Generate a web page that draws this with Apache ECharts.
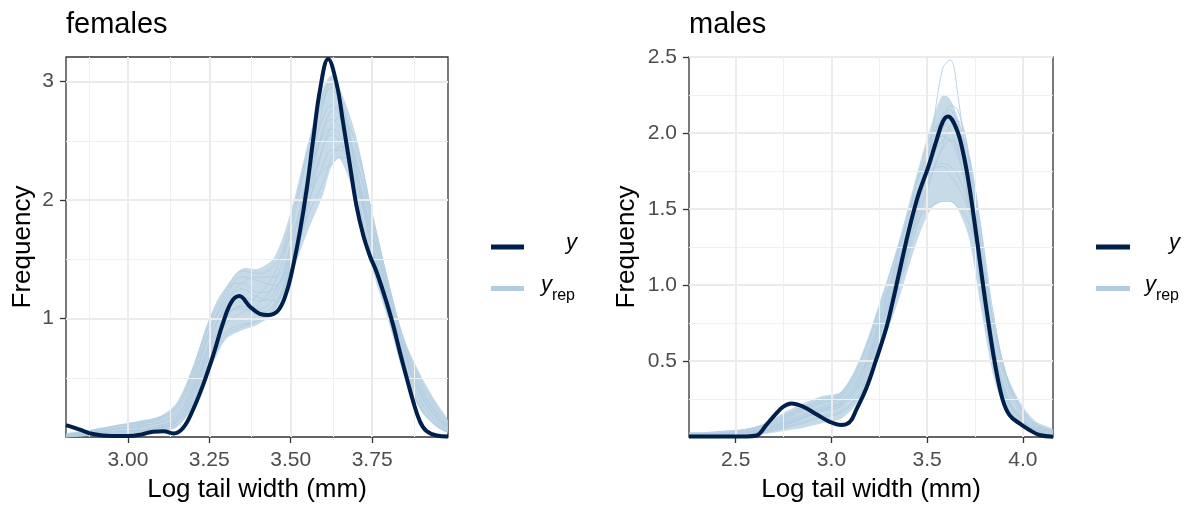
<!DOCTYPE html>
<html>
<head>
<meta charset="utf-8">
<script src="https://cdn.jsdelivr.net/npm/echarts@6/dist/echarts.min.js"></script>
<style>
  html, body { margin: 0; padding: 0; background: #ffffff; }
  #chart { width: 1190px; height: 508px; }
</style>
</head>
<body>
<div id="chart"></div>
<script>
// ---------- females: observed density ----------
const femaleObsX = [2.81, 2.85, 2.893, 2.95, 3.00, 3.04, 3.078, 3.11, 3.14, 3.17, 3.20, 3.231, 3.262, 3.293, 3.318, 3.342, 3.375, 3.405, 3.431, 3.462, 3.487, 3.508, 3.528, 3.549, 3.569, 3.59, 3.615, 3.641, 3.661, 3.682, 3.702, 3.723, 3.743, 3.764, 3.794, 3.815, 3.835, 3.856, 3.876, 3.897, 3.917, 3.948, 3.983];
const femaleObsY = [0.10, 0.065, 0.025, 0.008, 0.008, 0.02, 0.045, 0.048, 0.03, 0.078, 0.23, 0.44, 0.69, 0.97, 1.14, 1.19, 1.10, 1.04, 1.03, 1.07, 1.22, 1.45, 1.73, 2.09, 2.51, 2.93, 3.19, 2.98, 2.65, 2.29, 1.95, 1.70, 1.53, 1.39, 1.14, 0.94, 0.72, 0.50, 0.30, 0.13, 0.05, 0.012, 0.004];

// ---------- females: replicated densities ----------
const femaleRepX = [2.81, 2.86, 2.92, 2.98, 3.04, 3.10, 3.15, 3.20, 3.25, 3.30, 3.35, 3.40, 3.45, 3.50, 3.55, 3.60, 3.625, 3.65, 3.70, 3.75, 3.80, 3.85, 3.90, 3.95, 3.983];
const femaleRep = [
  [0.01, 0.02, 0.03, 0.04, 0.05, 0.07, 0.12, 0.30, 0.62, 0.88, 0.95, 0.98, 1.10, 1.45, 2.05, 2.80, 3.02, 2.90, 2.30, 1.55, 1.05, 0.58, 0.26, 0.10, 0.05],
  [0.02, 0.04, 0.06, 0.08, 0.11, 0.15, 0.24, 0.55, 0.95, 1.22, 1.40, 1.38, 1.45, 1.70, 2.05, 2.25, 2.30, 2.36, 2.30, 1.80, 1.25, 0.75, 0.45, 0.22, 0.12],
  [0.01, 0.03, 0.05, 0.07, 0.08, 0.10, 0.17, 0.42, 0.80, 1.08, 1.18, 1.15, 1.22, 1.60, 2.20, 2.70, 2.80, 2.72, 2.20, 1.62, 1.12, 0.66, 0.34, 0.15, 0.08],
  [0.00, 0.02, 0.04, 0.05, 0.06, 0.08, 0.14, 0.36, 0.72, 1.00, 1.10, 1.08, 1.18, 1.52, 2.10, 2.60, 2.68, 2.62, 2.35, 1.75, 1.20, 0.72, 0.40, 0.19, 0.10],
  [0.02, 0.04, 0.07, 0.10, 0.12, 0.16, 0.27, 0.58, 0.98, 1.25, 1.30, 1.22, 1.25, 1.55, 2.00, 2.45, 2.55, 2.50, 2.15, 1.60, 1.10, 0.62, 0.30, 0.12, 0.06],
  [0.01, 0.02, 0.04, 0.05, 0.06, 0.08, 0.13, 0.33, 0.68, 0.95, 1.05, 1.12, 1.30, 1.75, 2.35, 2.85, 2.95, 2.80, 2.10, 1.50, 1.02, 0.55, 0.24, 0.09, 0.04],
  [0.00, 0.01, 0.02, 0.03, 0.04, 0.06, 0.10, 0.28, 0.58, 0.85, 0.93, 0.98, 1.08, 1.40, 1.90, 2.45, 2.62, 2.70, 2.48, 1.85, 1.28, 0.80, 0.48, 0.25, 0.13],
  [0.02, 0.03, 0.05, 0.07, 0.09, 0.13, 0.21, 0.48, 0.88, 1.15, 1.30, 1.35, 1.35, 1.62, 2.15, 2.55, 2.60, 2.55, 2.25, 1.70, 1.18, 0.70, 0.36, 0.16, 0.09],
  [0.01, 0.03, 0.05, 0.08, 0.10, 0.12, 0.19, 0.40, 0.75, 1.02, 1.12, 1.20, 1.38, 1.82, 2.40, 2.90, 2.98, 2.85, 2.25, 1.58, 1.05, 0.60, 0.30, 0.13, 0.07],
  [0.01, 0.02, 0.03, 0.05, 0.06, 0.08, 0.14, 0.38, 0.78, 1.12, 1.25, 1.18, 1.15, 1.42, 1.85, 2.15, 2.35, 2.45, 2.40, 1.88, 1.30, 0.78, 0.42, 0.20, 0.10],
  [0.00, 0.01, 0.03, 0.05, 0.06, 0.09, 0.16, 0.45, 0.85, 1.05, 1.08, 1.05, 1.12, 1.48, 2.00, 2.60, 2.75, 2.78, 2.28, 1.65, 1.15, 0.68, 0.35, 0.16, 0.08],
  [0.01, 0.04, 0.07, 0.10, 0.13, 0.17, 0.25, 0.52, 0.90, 1.18, 1.35, 1.32, 1.28, 1.50, 1.95, 2.30, 2.42, 2.42, 2.18, 1.72, 1.22, 0.73, 0.38, 0.18, 0.09]
];
// spread of the replicated densities (lower / upper edge)
const femaleBandLo = [0.00, 0.01, 0.01, 0.02, 0.03, 0.04, 0.08, 0.25, 0.55, 0.82, 0.90, 0.95, 1.05, 1.35, 1.72, 2.05, 2.28, 2.35, 2.00, 1.42, 0.98, 0.50, 0.22, 0.08, 0.04];
const femaleBandHi = [0.03, 0.05, 0.08, 0.11, 0.14, 0.18, 0.29, 0.60, 1.00, 1.26, 1.42, 1.42, 1.52, 1.90, 2.45, 2.95, 3.05, 2.95, 2.55, 1.90, 1.32, 0.82, 0.52, 0.28, 0.14];

// ---------- males: observed density ----------
const maleObsX = [2.256, 2.40, 2.55, 2.608, 2.66, 2.712, 2.747, 2.791, 2.851, 2.921, 2.991, 3.052, 3.096, 3.13, 3.182, 3.234, 3.287, 3.321, 3.356, 3.391, 3.425, 3.46, 3.504, 3.547, 3.582, 3.608, 3.652, 3.686, 3.721, 3.756, 3.791, 3.826, 3.86, 3.895, 3.93, 3.982, 4.034, 4.087, 4.157];
const maleObsY = [0.003, 0.003, 0.004, 0.01, 0.08, 0.155, 0.198, 0.22, 0.20, 0.15, 0.10, 0.079, 0.10, 0.18, 0.32, 0.51, 0.72, 0.897, 1.094, 1.29, 1.464, 1.617, 1.77, 1.945, 2.076, 2.109, 2.03, 1.88, 1.64, 1.333, 1.006, 0.70, 0.44, 0.242, 0.144, 0.089, 0.046, 0.013, 0.002];

// ---------- males: replicated densities ----------
const maleRepX = [2.256, 2.35, 2.45, 2.55, 2.65, 2.75, 2.85, 2.95, 3.05, 3.15, 3.25, 3.35, 3.45, 3.52, 3.58, 3.62, 3.66, 3.72, 3.78, 3.85, 3.92, 4.00, 4.07, 4.157];
const maleRep = [
  [0.01, 0.01, 0.02, 0.03, 0.05, 0.09, 0.14, 0.19, 0.22, 0.36, 0.68, 1.08, 1.52, 1.80, 1.95, 1.96, 1.90, 1.62, 1.12, 0.55, 0.24, 0.11, 0.05, 0.02],
  [0.00, 0.00, 0.01, 0.01, 0.03, 0.06, 0.10, 0.14, 0.17, 0.30, 0.60, 1.00, 1.48, 1.95, 2.42, 2.48, 2.25, 1.62, 0.98, 0.45, 0.19, 0.09, 0.04, 0.01],
  [0.02, 0.03, 0.04, 0.05, 0.08, 0.13, 0.19, 0.24, 0.28, 0.48, 0.82, 1.15, 1.42, 1.52, 1.55, 1.55, 1.52, 1.40, 1.15, 0.72, 0.36, 0.16, 0.08, 0.04],
  [0.01, 0.02, 0.02, 0.03, 0.06, 0.10, 0.15, 0.20, 0.24, 0.40, 0.72, 1.12, 1.60, 1.92, 2.12, 2.15, 2.05, 1.72, 1.18, 0.58, 0.24, 0.10, 0.05, 0.02],
  [0.00, 0.01, 0.01, 0.02, 0.04, 0.07, 0.12, 0.17, 0.20, 0.33, 0.62, 1.02, 1.45, 1.72, 1.90, 1.95, 1.92, 1.75, 1.30, 0.70, 0.32, 0.14, 0.07, 0.03],
  [0.02, 0.02, 0.03, 0.04, 0.07, 0.12, 0.18, 0.23, 0.27, 0.45, 0.78, 1.20, 1.70, 1.98, 2.08, 2.02, 1.88, 1.52, 1.00, 0.48, 0.20, 0.09, 0.04, 0.02],
  [0.01, 0.01, 0.02, 0.03, 0.05, 0.08, 0.12, 0.17, 0.21, 0.38, 0.70, 1.10, 1.55, 1.85, 2.02, 2.10, 2.08, 1.80, 1.25, 0.62, 0.27, 0.12, 0.06, 0.03],
  [0.00, 0.01, 0.01, 0.02, 0.04, 0.06, 0.09, 0.13, 0.16, 0.28, 0.58, 0.98, 1.40, 1.70, 1.92, 2.05, 2.08, 1.85, 1.38, 0.78, 0.38, 0.17, 0.08, 0.04],
  [0.01, 0.02, 0.03, 0.04, 0.06, 0.11, 0.17, 0.22, 0.26, 0.42, 0.76, 1.22, 1.68, 1.90, 1.98, 1.95, 1.85, 1.55, 1.10, 0.55, 0.23, 0.10, 0.05, 0.02],
  [0.02, 0.02, 0.03, 0.05, 0.08, 0.14, 0.20, 0.25, 0.29, 0.50, 0.85, 1.25, 1.62, 1.76, 1.80, 1.78, 1.72, 1.50, 1.08, 0.58, 0.26, 0.12, 0.06, 0.03],
  [0.00, 0.01, 0.02, 0.03, 0.05, 0.09, 0.13, 0.18, 0.22, 0.35, 0.66, 1.05, 1.50, 1.80, 2.05, 2.18, 2.15, 1.82, 1.22, 0.58, 0.25, 0.11, 0.05, 0.02],
  [0.01, 0.01, 0.02, 0.03, 0.05, 0.08, 0.13, 0.18, 0.23, 0.40, 0.74, 1.15, 1.58, 1.75, 1.78, 1.72, 1.65, 1.48, 1.20, 0.75, 0.38, 0.17, 0.08, 0.04]
];
const maleBandLo = [0.00, 0.00, 0.005, 0.01, 0.02, 0.04, 0.06, 0.09, 0.12, 0.25, 0.55, 0.90, 1.30, 1.50, 1.55, 1.55, 1.50, 1.30, 0.85, 0.38, 0.16, 0.08, 0.04, 0.01];
const maleBandHi = [0.03, 0.03, 0.04, 0.05, 0.09, 0.16, 0.22, 0.27, 0.30, 0.52, 0.88, 1.28, 1.75, 2.05, 2.25, 2.22, 2.10, 1.85, 1.40, 0.75, 0.40, 0.20, 0.10, 0.05];

// ---------- axis ranges and breaks ----------
const femaleXRange = [2.81, 3.983];
const femaleYRange = [0, 3.207];
const femaleXTicks = [3.00, 3.25, 3.50, 3.75];
const femaleXMinor = [2.875, 3.125, 3.375, 3.625, 3.875];
const femaleYTicks = [1, 2, 3];
const femaleYMinor = [0.5, 1.5, 2.5];

const maleXRange = [2.256, 4.157];
const maleYRange = [0, 2.5];
const maleXTicks = [2.5, 3.0, 3.5, 4.0];
const maleXMinor = [2.75, 3.25, 3.75];
const maleYTicks = [0.5, 1.0, 1.5, 2.0, 2.5];
const maleYMinor = [0.25, 0.75, 1.25, 1.75, 2.25];

const panelTitles = ['females', 'males'];
const xAxisTitle = 'Log tail width (mm)';
const yAxisTitle = 'Frequency';

// ---------- styling ----------
const DARK = '#011f4b';
const LIGHT = '#b3cde0';
const FONT = '"Liberation Sans", Arial, Helvetica, sans-serif';

const zip = (xs, ys) => xs.map((x, i) => [x, ys[i]]);

const chart = echarts.init(document.getElementById('chart'), null, { renderer: 'canvas' });

const panels = [
  {
    grid: { left: 66, top: 57, width: 382, height: 383 },
    xRange: femaleXRange, yRange: femaleYRange,
    xTicks: femaleXTicks, xMinor: femaleXMinor, yTicks: femaleYTicks, yMinor: femaleYMinor,
    yFmt: v => String(Math.round(v)), yNameGap: 30,
    obs: zip(femaleObsX, femaleObsY), repX: femaleRepX, rep: femaleRep,
    lo: femaleBandLo, hi: femaleBandHi
  },
  {
    grid: { left: 689, top: 57, width: 364, height: 383 },
    xRange: maleXRange, yRange: maleYRange,
    xTicks: maleXTicks, xMinor: maleXMinor, yTicks: maleYTicks, yMinor: maleYMinor,
    yFmt: v => v.toFixed(1), yNameGap: 49,
    obs: zip(maleObsX, maleObsY), repX: maleRepX, rep: maleRep,
    lo: maleBandLo, hi: maleBandHi
  }
];

const grids = [], xAxes = [], yAxes = [], series = [];

panels.forEach((p, i) => {
  grids.push(Object.assign({
    show: true, backgroundColor: '#ffffff',
    borderColor: '#333333', borderWidth: 1.3, containLabel: false
  }, p.grid));

  xAxes.push({
    type: 'value', gridIndex: i, min: p.xRange[0], max: p.xRange[1],
    axisLine: { show: false },
    splitLine: { show: false },
    axisTick: { show: true, customValues: p.xTicks, length: 6, lineStyle: { color: '#333333', width: 1.3 } },
    axisLabel: {
      customValues: p.xTicks, margin: 13, color: '#4d4d4d', fontSize: 21, fontFamily: FONT,
      formatter: v => (i === 0 ? v.toFixed(2) : v.toFixed(1))
    },
    name: xAxisTitle, nameLocation: 'middle', nameGap: 40,
    nameTextStyle: { color: '#000000', fontSize: 26, fontFamily: FONT }
  });

  yAxes.push({
    type: 'value', gridIndex: i, min: p.yRange[0], max: p.yRange[1],
    axisLine: { show: false },
    splitLine: { show: false },
    axisTick: { show: true, customValues: p.yTicks, length: 6, lineStyle: { color: '#333333', width: 1.3 } },
    axisLabel: {
      customValues: p.yTicks, margin: 12, color: '#4d4d4d', fontSize: 21, fontFamily: FONT,
      formatter: p.yFmt
    },
    name: yAxisTitle, nameLocation: 'middle', nameGap: p.yNameGap, nameRotate: 90,
    nameTextStyle: { color: '#000000', fontSize: 26, fontFamily: FONT }
  });

  // panel grid lines: thin minor, wider major
  const major = { color: '#ebebeb', width: 2, type: 'solid' };
  const minor = { color: '#f0f0f0', width: 1, type: 'solid' };
  const gridLines = []
    .concat(p.xMinor.map(v => ({ xAxis: v, lineStyle: minor })))
    .concat(p.yMinor.map(v => ({ yAxis: v, lineStyle: minor })))
    .concat(p.xTicks.map(v => ({ xAxis: v, lineStyle: major })))
    .concat(p.yTicks.map(v => ({ yAxis: v, lineStyle: major })));
  series.push({
    type: 'line', xAxisIndex: i, yAxisIndex: i, data: [], z: 1, silent: true,
    markLine: {
      silent: true, symbol: ['none', 'none'], label: { show: false }, animation: false,
      emphasis: { disabled: true }, data: gridLines
    }
  });

  // spread of replicated densities
  series.push({
    type: 'custom', xAxisIndex: i, yAxisIndex: i, z: 2, silent: true, clip: true,
    data: [[p.repX[0], 0]],
    renderItem: (params, api) => {
      const pts = [];
      for (let k = 0; k < p.repX.length; k++) pts.push(api.coord([p.repX[k], p.hi[k]]));
      for (let k = p.repX.length - 1; k >= 0; k--) pts.push(api.coord([p.repX[k], p.lo[k]]));
      return { type: 'polygon', shape: { points: pts, smooth: 0.3 }, style: { fill: 'rgba(179,205,224,0.75)' } };
    }
  });

  // individual replicated densities
  p.rep.forEach(r => {
    series.push({
      type: 'line', xAxisIndex: i, yAxisIndex: i, z: 3, silent: true,
      data: zip(p.repX, r), showSymbol: false, smooth: 0.4,
      lineStyle: { color: LIGHT, width: 1, opacity: 0.9 }
    });
  });

  // observed density
  series.push({
    type: 'line', xAxisIndex: i, yAxisIndex: i, z: 5, silent: true,
    data: p.obs, showSymbol: false, smooth: 0.4,
    lineStyle: { color: DARK, width: 4 }
  });
});

// panel titles and legends
const graphic = [];
const legendSpots = [
  { key: [491, 524], yRight: 577, repRight: 575 },
  { key: [1096, 1130], yRight: 1180, repRight: 1179 }
];
panels.forEach((p, i) => {
  graphic.push({
    type: 'text', x: p.grid.left, y: 25,
    style: { text: panelTitles[i], font: '29px ' + FONT, fill: '#000000', verticalAlign: 'middle', align: 'left' }
  });
  const L = legendSpots[i];
  graphic.push({ type: 'line', shape: { x1: L.key[0], y1: 247, x2: L.key[1], y2: 247 }, style: { stroke: DARK, lineWidth: 5 } });
  graphic.push({ type: 'line', shape: { x1: L.key[0], y1: 288.5, x2: L.key[1], y2: 288.5 }, style: { stroke: LIGHT, lineWidth: 5 } });
  graphic.push({
    type: 'text', x: L.yRight, y: 243,
    style: { text: 'y', font: 'italic 22px ' + FONT, fill: '#000000', align: 'right', verticalAlign: 'middle' }
  });
  graphic.push({
    type: 'text', x: L.repRight, y: 296,
    style: { text: 'rep', font: '16px ' + FONT, fill: '#000000', align: 'right', verticalAlign: 'middle' }
  });
  graphic.push({
    type: 'text', x: L.repRight - 23, y: 285,
    style: { text: 'y', font: 'italic 22px ' + FONT, fill: '#000000', align: 'right', verticalAlign: 'middle' }
  });
});

chart.setOption({
  animation: false,
  backgroundColor: '#ffffff',
  grid: grids,
  xAxis: xAxes,
  yAxis: yAxes,
  series: series,
  graphic: graphic
});
</script>
</body>
</html>
